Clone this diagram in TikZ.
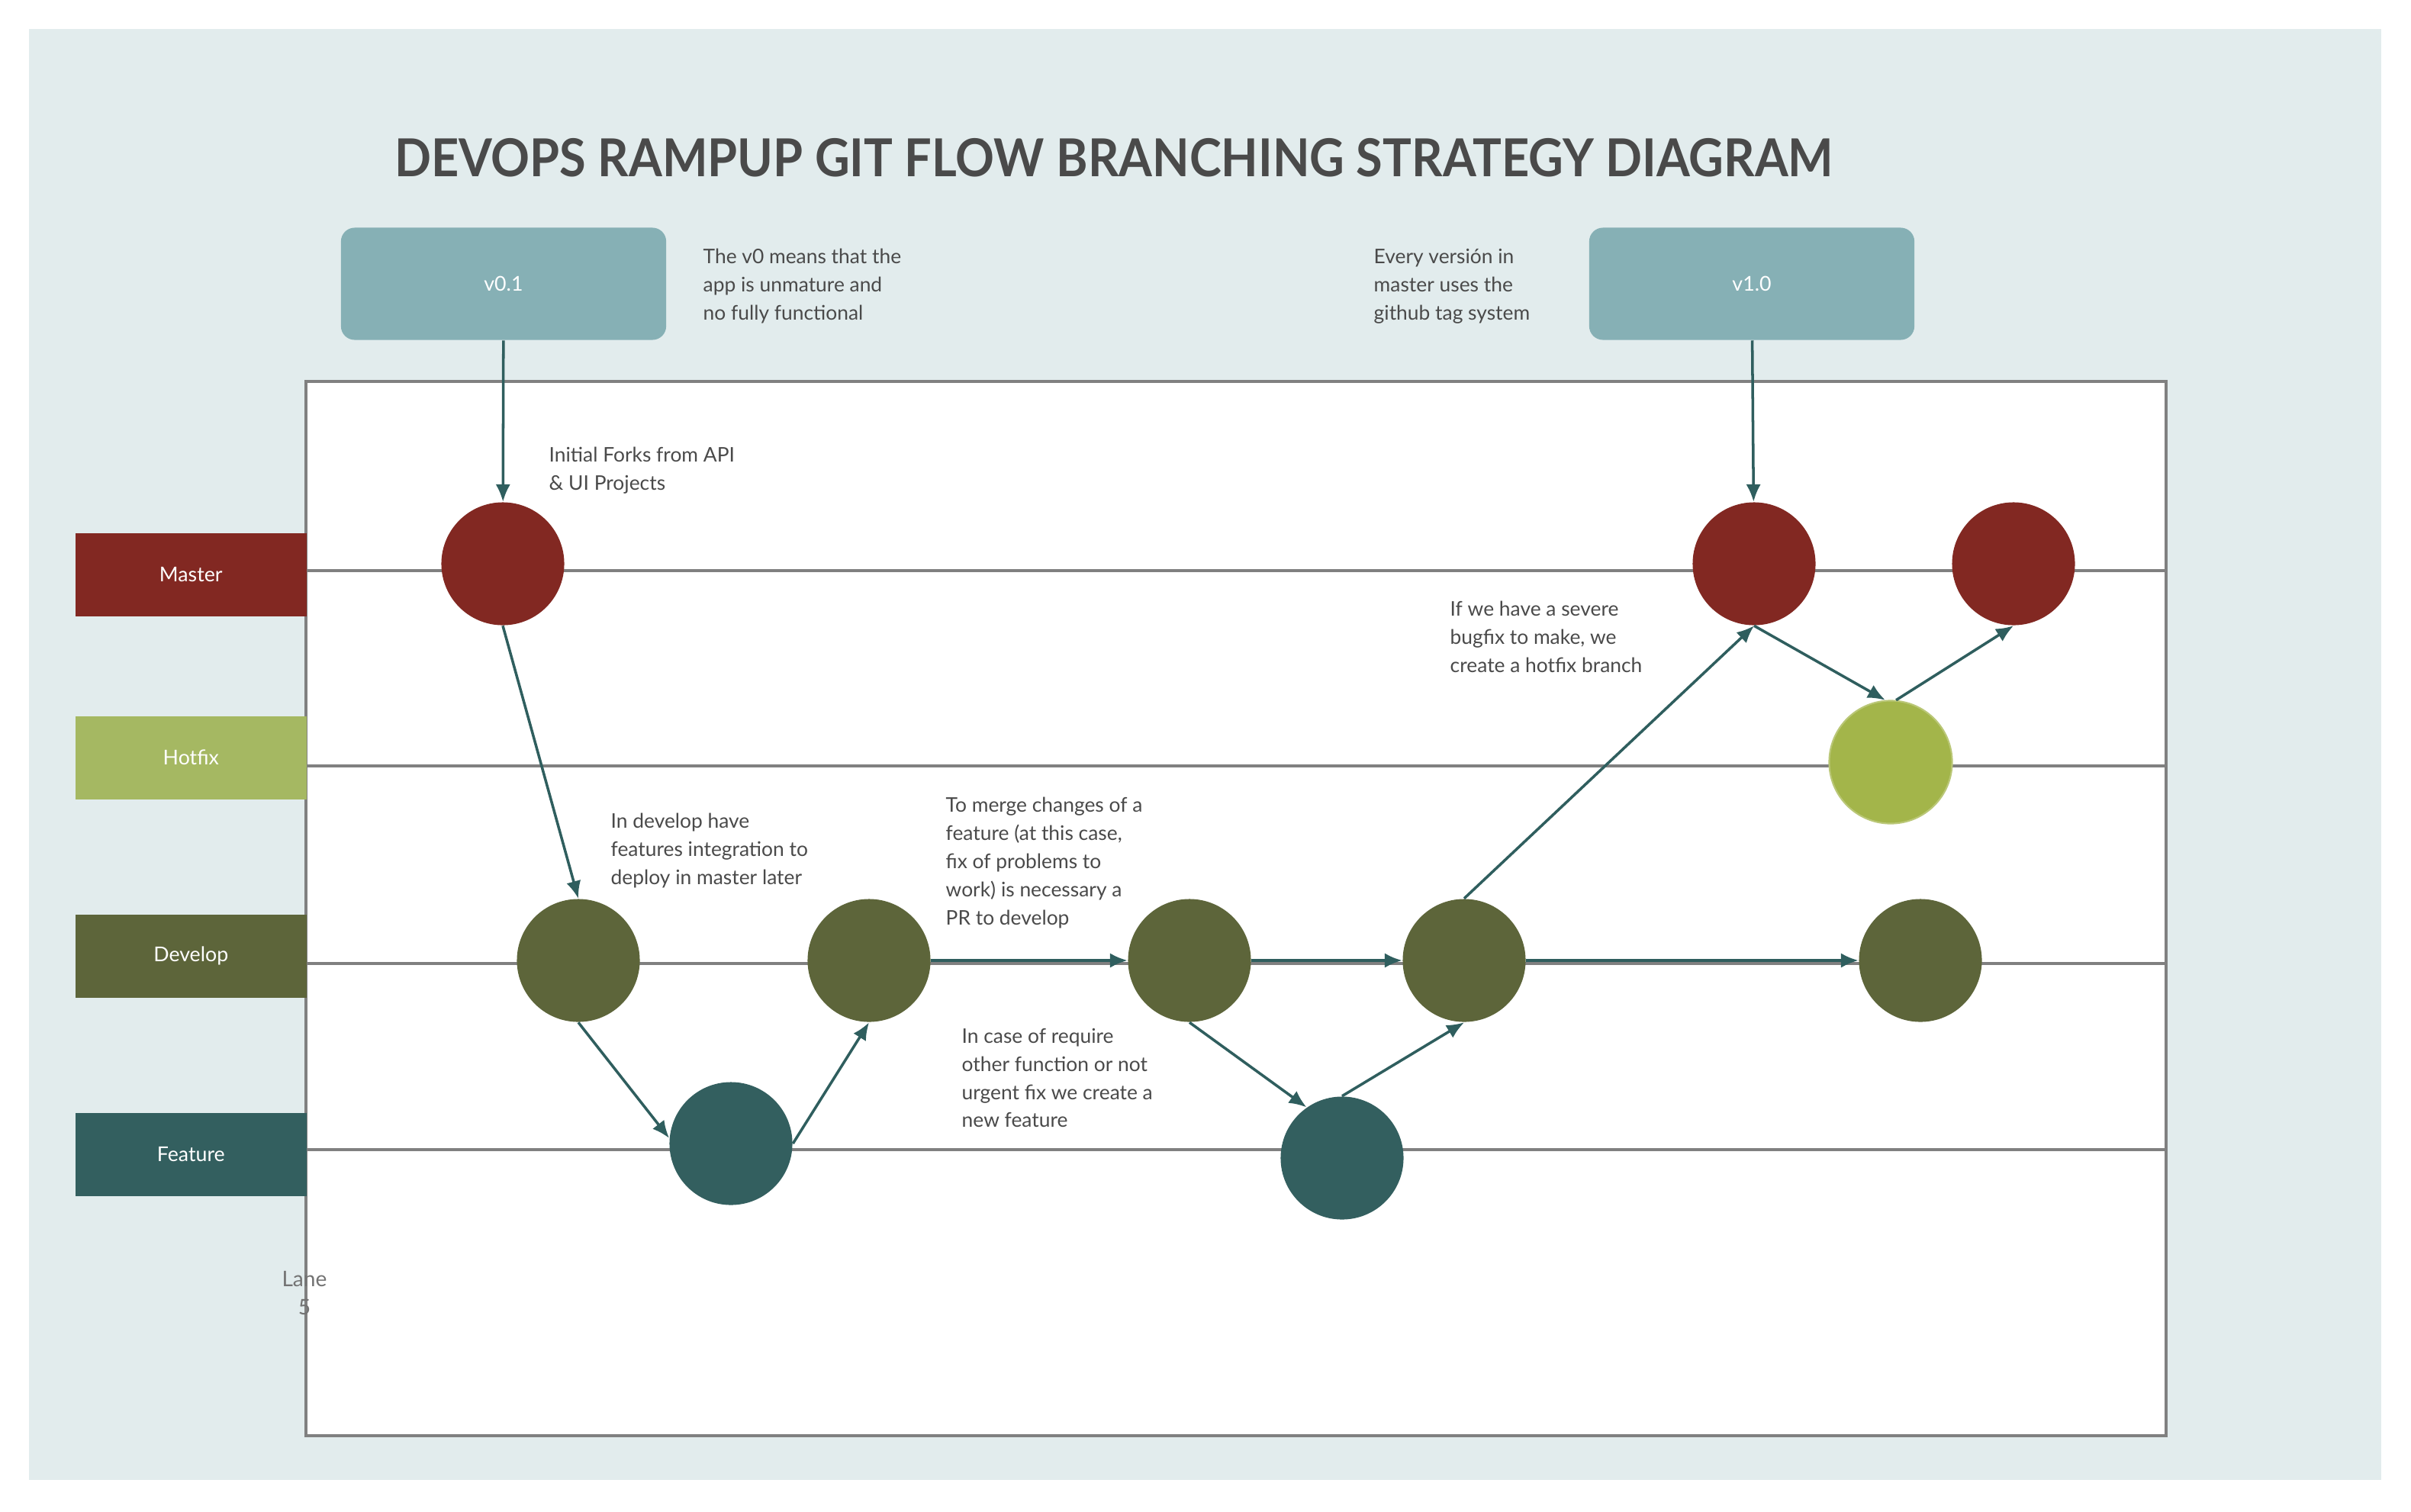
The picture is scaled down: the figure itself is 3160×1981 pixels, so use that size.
\documentclass[tikz,border=0pt]{standalone}
\usepackage{fontspec}
\setmainfont{Lato}
\newfontfamily\titlefont{Lato}[FakeStretch=0.92]
\usetikzlibrary{arrows.meta,positioning}

\definecolor{pagebg}{HTML}{E2ECED}
\definecolor{tagbox}{HTML}{86B0B5}
\definecolor{masterred}{HTML}{822822}
\definecolor{hotfixlabel}{HTML}{A5B862}
\definecolor{hotfixcommit}{HTML}{A3B54A}
\definecolor{developgreen}{HTML}{5D653A}
\definecolor{featureteal}{HTML}{335F5F}
\definecolor{flowline}{HTML}{2F5E5E}
\definecolor{lanegray}{HTML}{808080}
\definecolor{notetext}{HTML}{4A4A4A}

\begin{document}
\begin{tikzpicture}[x=0.01cm, y=-0.01cm,
        commit/.style={circle, minimum size=1.61cm, inner sep=0pt},
        lanelabel/.style={anchor=north west, minimum width=3.03cm, minimum height=1.09cm, inner sep=0pt, text=white, font=\fontsize{7.6}{9}\selectfont},
        tag/.style={fill=tagbox, rounded corners=0.18cm, minimum width=4.26cm, minimum height=1.47cm, inner sep=0pt, text=white, font=\fontsize{7.6}{9}\selectfont},
        note/.style={anchor=west, align=left, inner sep=0pt, text=notetext, font=\fontsize{7.5}{10.5}\selectfont},
        flow/.style={draw=flowline, line width=1pt, -{Latex[length=6.5pt, width=5.5pt]}},
        lane/.style={draw=lanegray, line width=1pt}]

        \useasboundingbox (0,0) rectangle (3160,1981);
        \fill[white] (0,0) rectangle (3160,1981);
        \fill[pagebg] (38,38) rectangle (3121,1940);

        \node[text=notetext, font=\titlefont\fontsize{19.5}{22}\selectfont\bfseries] (title) at (1460,207) {DEVOPS RAMPUP GIT FLOW BRANCHING STRATEGY DIAGRAM};

        \node[tag] (tag v01) at (660,372) {v0.1};
        \node[tag] (tag v10) at (2296,372) {v1.0};
        \node[note] (note v0) at (921,375) {The v0 means that the\\app is unmature and\\no fully functional};
        \node[note] (note tags) at (1800,375) {Every versión in\\master uses the\\github tag system};

        \begin{scope}
            \draw[lanegray, line width=1.2pt, fill=white] (401,500) rectangle (2839,1882);
            \foreach \y in {748,1004,1263,1507}
                \draw[lane] (401,\y) -- (2839,\y);

            \node[lanelabel, fill=masterred] (label master) at (98,698) {Master};
            \node[lanelabel, fill=hotfixlabel] (label hotfix) at (98,938) {Hotfix};
            \node[lanelabel, fill=developgreen] (label develop) at (98,1198) {Develop};
            \node[lanelabel, fill=featureteal] (label feature) at (98,1458) {Feature};
            \node[align=center, inner sep=0pt, text=lanegray!90!black, font=\fontsize{8}{10.5}\selectfont] (label lane5) at (399,1695) {Lane\\5};
        \end{scope}

        \node[commit, fill=masterred] (master1) at (659,739) {};
        \node[commit, fill=masterred] (master2) at (2299,739) {};
        \node[commit, fill=masterred] (master3) at (2639,739) {};
        \node[commit, fill=hotfixcommit, draw=hotfixcommit!75!white, line width=0.6pt] (hotfix1) at (2478,999) {};
        \node[commit, fill=developgreen] (develop1) at (758,1259) {};
        \node[commit, fill=developgreen] (develop2) at (1139,1259) {};
        \node[commit, fill=developgreen] (develop3) at (1559,1259) {};
        \node[commit, fill=developgreen] (develop4) at (1919,1259) {};
        \node[commit, fill=developgreen] (develop5) at (2517,1259) {};
        \node[commit, fill=featureteal] (feature1) at (958,1499) {};
        \node[commit, fill=featureteal] (feature2) at (1759,1518) {};

        \node[note] (note forks) at (719,617) {Initial Forks from API\\\& UI Projects};
        \node[note] (note develop) at (800,1115) {In develop have\\features integration to\\deploy in master later};
        \node[note] (note merge) at (1239,1131) {To merge changes of a\\feature (at this case,\\fix of problems to\\work) is necessary a\\PR to develop};
        \node[note] (note feature) at (1260,1413) {In case of require\\other function or not\\urgent fix we create a\\new feature};
        \node[note] (note hotfix) at (1900,835) {If we have a severe\\bugfix to make, we\\create a hotfix branch};

        \draw[flow] (tag v01) -- (master1);
        \draw[flow] (tag v10) -- (master2);
        \draw[flow] (master1.south) -- (develop1.north);
        \draw[flow] (develop1.south) -- (feature1.175);
        \draw[flow] (feature1.east) -- (develop2.south);
        \draw[flow] (develop2.east) -- (develop3.west);
        \draw[flow] (develop3.east) -- (develop4.west);
        \draw[flow] (develop3.south) -- (feature2.125);
        \draw[flow] (feature2.north) -- (develop4.south);
        \draw[flow] (develop4.north) -- (master2.south);
        \draw[flow] (develop4.east) -- (develop5.west);
        \draw[flow] (master2.south) -- (hotfix1.95);
        \draw[flow] (hotfix1.85) -- (master3.south);
    \end{tikzpicture}
\end{document}
